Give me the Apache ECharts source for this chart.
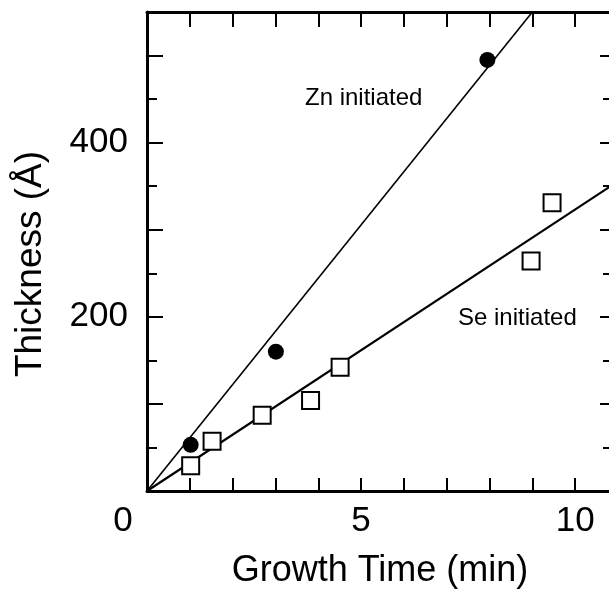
<!DOCTYPE html>
<html>
<head>
<meta charset="utf-8">
<script src="https://cdn.jsdelivr.net/npm/echarts@6/dist/echarts.min.js"></script>
<style>html,body{margin:0;padding:0;background:#fff;}#c{width:609px;height:592px;}</style>
</head>
<body>
<div id="c"></div>
<script>
// Data
const znTime = [1.02, 3.01, 7.95];
const znThickness = [53, 160, 495];
const seTime = [1.02, 1.52, 2.69, 3.82, 4.51, 8.97, 9.46];
const seThickness = [29, 57, 87, 104, 142, 264, 331];
// Fit lines (end points)
const znLine = [[0, 0], [9.0, 550]];
const seLine = [[0, 0], [10.86, 351]];
// Tick labels
const xTickLabels = [0, 5, 10];
const yTickLabels = [200, 400];
const xTitle = 'Growth Time (min)';
const yTitle = 'Thickness (Å)';
const znLabel = 'Zn initiated';
const seLabel = 'Se initiated';

const FONT = '"Liberation Sans", Arial, Helvetica, sans-serif';
const chart = echarts.init(document.getElementById('c'), null, {renderer: 'canvas'});

const axisLine = {show: true, onZero: false, lineStyle: {color: '#000', width: 3}};
const xBase = {type: 'value', min: 0, max: 10.86, interval: 1, splitLine: {show: false}, axisLine: axisLine};
const yBase = {type: 'value', min: 0, max: 550, interval: 100, splitLine: {show: false}, axisLine: axisLine};

chart.setOption({
  animation: false,
  backgroundColor: '#fff',
  grid: {left: 147, top: 12, width: 465, height: 479, containLabel: false, outerBoundsMode: 'none'},
  xAxis: [
    Object.assign({}, xBase, {
      position: 'bottom',
      axisTick: {show: true, inside: true, length: 13, lineStyle: {color: '#000', width: 2}},
      axisLabel: {
        show: true, margin: 13, color: '#000', fontSize: 35, fontFamily: FONT,
        formatter: function (v) {
          if (v === 0 && xTickLabels.indexOf(0) >= 0) return '{z|0}';
          return xTickLabels.indexOf(v) >= 0 ? String(v) : '';
        },
        rich: {z: {fontSize: 35, fontFamily: FONT, color: '#000', padding: [0, 48, 0, 0]}}
      }
    }),
    Object.assign({}, xBase, {
      position: 'top',
      axisTick: {show: true, inside: true, length: 15, lineStyle: {color: '#000', width: 2}},
      axisLabel: {show: false}
    })
  ],
  yAxis: [
    Object.assign({}, yBase, {
      position: 'left',
      axisTick: {show: true, inside: true, length: 16, lineStyle: {color: '#000', width: 2}},
      minorTick: {show: true, splitNumber: 2, length: 10, lineStyle: {color: '#000', width: 2}},
      axisLabel: {
        show: true, margin: 19, color: '#000', fontSize: 35, fontFamily: FONT,
        formatter: function (v) { return yTickLabels.indexOf(v) >= 0 ? String(v) : ''; }
      }
    }),
    Object.assign({}, yBase, {
      position: 'right',
      axisTick: {show: true, inside: true, length: 12, lineStyle: {color: '#000', width: 2}},
      minorTick: {show: true, splitNumber: 2, length: 9, lineStyle: {color: '#000', width: 2}},
      axisLabel: {show: false}
    })
  ],
  series: [
    {type: 'line', data: znLine, showSymbol: false, symbol: 'none', clip: true, z: 2,
     lineStyle: {color: '#000', width: 1.6}},
    {type: 'line', data: seLine, showSymbol: false, symbol: 'none', clip: true, z: 2,
     lineStyle: {color: '#000', width: 2.2}},
    {type: 'scatter', data: znTime.map((t, i) => [t, znThickness[i]]), symbol: 'circle', symbolSize: 16, z: 5,
     itemStyle: {color: '#000', opacity: 1}},
    {type: 'scatter', data: seTime.map((t, i) => [t, seThickness[i]]), symbol: 'rect', symbolSize: 17, z: 5,
     itemStyle: {color: '#fff', borderColor: '#000', borderWidth: 2, opacity: 1}}
  ],
  graphic: [
    {type: 'text', left: 305, top: 86, style: {text: znLabel, fontSize: 24, fontFamily: FONT, fill: '#000'}},
    {type: 'text', left: 458, top: 306, style: {text: seLabel, fontSize: 24, fontFamily: FONT, fill: '#000'}},
    {type: 'text', x: 380, y: 571, style: {text: xTitle, fontSize: 36, fontFamily: FONT, fill: '#000', align: 'center', verticalAlign: 'middle'}},
    {type: 'text', x: 31, y: 264, rotation: Math.PI / 2, style: {text: yTitle, fontSize: 37, fontFamily: FONT, fill: '#000', align: 'center', verticalAlign: 'middle'}}
  ]
});
</script>
</body>
</html>
